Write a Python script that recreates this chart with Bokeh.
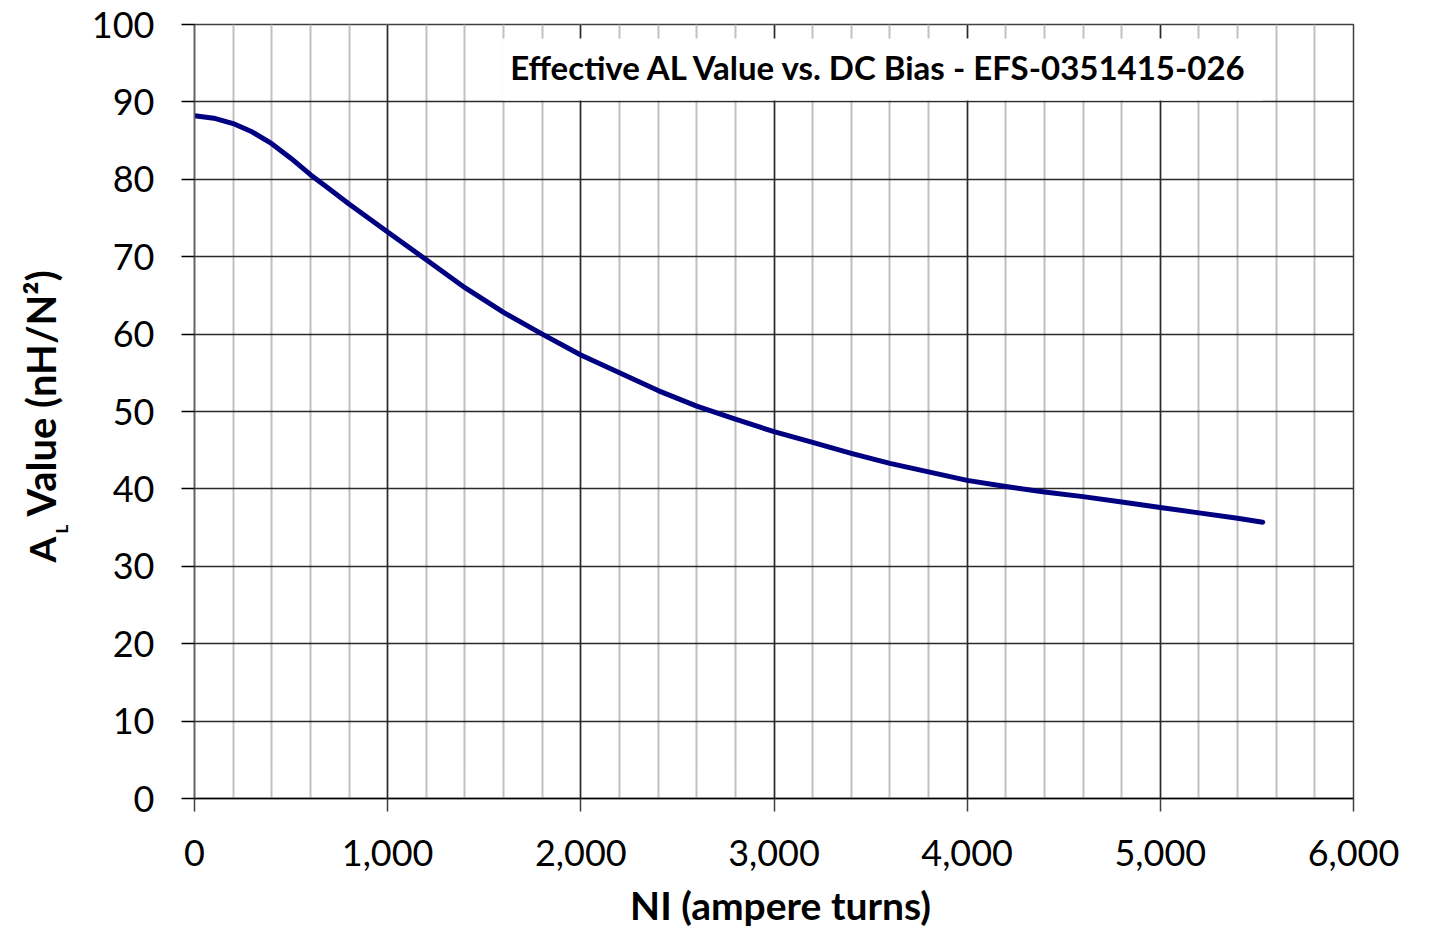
from bokeh.plotting import figure
from bokeh.layouts import row, column
from bokeh.models import Range1d, SingleIntervalTicker, NumeralTickFormatter, Label
from bokeh.embed import file_html
from bokeh.resources import INLINE
import math

# --- data ---
ni_ampere_turns = [0, 100, 200, 300, 400, 500, 600, 700, 800, 900, 1000, 1200, 1400, 1600,
                   1800, 2000, 2200, 2400, 2600, 2800, 3000, 3200, 3400, 3600, 3800,
                   4000, 4200, 4400, 4600, 4800, 5000, 5200, 5400, 5530]
al_value = [88.2, 87.9, 87.2, 86.1, 84.6, 82.7, 80.6, 78.7, 76.8, 75.0, 73.2, 69.6, 66.0, 62.8,
            60.0, 57.3, 55.0, 52.7, 50.7, 49.0, 47.4, 46.0, 44.6, 43.3, 42.2,
            41.1, 40.3, 39.6, 39.0, 38.3, 37.6, 36.9, 36.2, 35.7]

title_text = "Effective AL Value vs. DC Bias - EFS-0351415-026"
x_label = "NI (ampere turns)"
y_label_main = "A"
y_label_sub = "L"
y_label_rest = "Value (nH/N²)"

FONT = "Lato"
TOTAL_W = 1426
TOTAL_H = 933
FRAME_L, FRAME_T, FRAME_R, FRAME_B = 193, 24, 1353, 798
LEFT_W = 88
TOP_H = 882
BOTTOM_H = TOTAL_H - TOP_H
MAIN_W = TOTAL_W - LEFT_W


def blank(width, height):
    f = figure(width=width, height=height, output_backend="svg", toolbar_location=None,
               x_axis_type=None, y_axis_type=None,
               x_range=Range1d(0, 1), y_range=Range1d(0, 1),
               min_border=0, min_border_left=0, min_border_right=0,
               min_border_top=0, min_border_bottom=0)
    f.outline_line_color = None
    f.background_fill_color = "white"
    f.border_fill_color = "white"
    f.xgrid.visible = False
    f.ygrid.visible = False
    return f


# ---- left strip holding the y-axis title (A with subscript L) ----
lf = blank(LEFT_W, TOP_H)
lf.min_border_top = FRAME_T
lf.min_border_bottom = TOP_H - FRAME_B
ang = math.pi / 2
lf.add_layout(Label(x=41, y=FRAME_B - 562, x_units="screen", y_units="screen",
                    text=y_label_main, angle=ang, text_font=FONT, text_font_style="bold",
                    text_font_size="37px", text_align="left", text_baseline="alphabetic",
                    text_color="black"))
lf.add_layout(Label(x=61, y=FRAME_B - 533, x_units="screen", y_units="screen",
                    text=y_label_sub, angle=ang, text_font=FONT, text_font_style="bold",
                    text_font_size="17px", text_align="left", text_baseline="alphabetic",
                    text_color="black"))
lf.add_layout(Label(x=40, y=FRAME_B - 516, x_units="screen", y_units="screen",
                    text=y_label_rest, angle=ang, text_font=FONT, text_font_style="bold",
                    text_font_size="40px", text_align="left", text_baseline="alphabetic",
                    text_color="black"))

# ---- main chart ----
p = figure(width=MAIN_W, height=TOP_H, output_backend="svg", toolbar_location=None,
           x_range=Range1d(0, 6000), y_range=Range1d(0, 100),
           min_border_left=FRAME_L - LEFT_W, min_border_top=FRAME_T,
           min_border_right=MAIN_W - (FRAME_R - LEFT_W), min_border_bottom=TOP_H - FRAME_B)
p.background_fill_color = "white"
p.border_fill_color = "white"
p.outline_line_color = "#404040"
p.outline_line_width = 1.5

p.xaxis.ticker = SingleIntervalTicker(interval=1000, num_minor_ticks=5)
p.yaxis.ticker = SingleIntervalTicker(interval=10, num_minor_ticks=0)
p.xaxis.formatter = NumeralTickFormatter(format="0,0")

for ax in (p.xaxis, p.yaxis):
    ax.major_label_text_font = FONT
    ax.major_label_text_font_size = "36px"
    ax.major_label_text_color = "black"
    ax.major_tick_in = 0
    ax.major_tick_out = 13
    ax.minor_tick_in = 0
    ax.minor_tick_out = 0
    ax.major_tick_line_width = 1.5
    ax.axis_line_width = 1.5

p.xaxis.axis_line_color = "black"
p.xaxis.major_tick_line_color = "#404040"
p.yaxis.axis_line_color = "#606060"
p.yaxis.major_tick_line_color = "black"
p.xaxis.major_label_standoff = 28
p.yaxis.major_label_standoff = 27

p.xgrid.grid_line_color = "#2a2a2a"
p.xgrid.grid_line_width = 1.5
p.xgrid.minor_grid_line_color = "#c0c0c0"
p.xgrid.minor_grid_line_width = 2
p.ygrid.grid_line_color = "#2a2a2a"
p.ygrid.grid_line_width = 1.5

p.line(ni_ampere_turns, al_value, line_color="#000080", line_width=5,
       line_join="round", line_cap="round")

# title box inside the plot area (screen units relative to the frame)
p.add_layout(Label(x=688, y=FRAME_B - 69, x_units="screen", y_units="screen", text=title_text,
                   text_font=FONT, text_font_style="bold", text_font_size="33px",
                   text_align="center", text_baseline="middle", text_color="black",
                   background_fill_color="white", padding=(8, 14, 8, 14)))

# ---- bottom strip holding the x-axis title ----
bf = blank(TOTAL_W, BOTTOM_H)
bf.add_layout(Label(x=780, y=29, x_units="screen", y_units="screen",
                    text=x_label, text_font=FONT, text_font_style="bold",
                    text_font_size="39px", text_align="center", text_baseline="alphabetic",
                    text_color="black"))

layout = column(row(lf, p, spacing=0), bf, spacing=0)
open("out.html", "w").write(file_html(layout, INLINE))
